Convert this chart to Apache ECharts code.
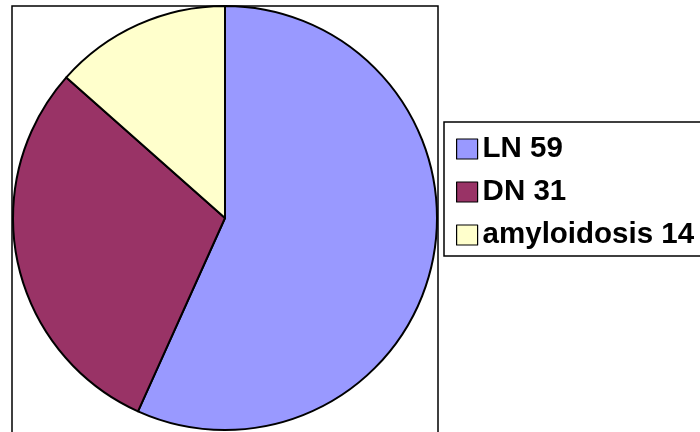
<!DOCTYPE html>
<html>
<head>
<meta charset="utf-8">
<script src="https://cdn.jsdelivr.net/npm/echarts@6/dist/echarts.min.js"></script>
<style>
  html, body { margin: 0; padding: 0; background: #ffffff; }
  #chart { width: 700px; height: 432px; }
</style>
</head>
<body>
<div id="chart"></div>
<script>
// Case counts by diagnosis
const categories = ['LN', 'DN', 'amyloidosis'];
const counts = [59, 31, 14];
const colors = ['#9999FF', '#993366', '#FFFFCC'];

const chart = echarts.init(document.getElementById('chart'), null, { renderer: 'canvas' });

const pieData = categories.map((name, i) => ({
  name: name,
  value: counts[i],
  itemStyle: { color: colors[i] }
}));

chart.setOption({
  animation: false,
  backgroundColor: '#ffffff',
  graphic: [
    {
      // plot-area frame
      type: 'rect',
      shape: { x: 12, y: 6, width: 426, height: 440 },
      style: { fill: 'none', stroke: '#000000', lineWidth: 1.5 },
      z: 0
    }
  ],
  legend: {
    orient: 'vertical',
    left: 444,
    top: 122,
    padding: [12, 30, 6, 12],
    itemWidth: 21,
    itemHeight: 20,
    itemGap: 13,
    borderColor: '#000000',
    borderWidth: 1.5,
    backgroundColor: '#ffffff',
    selectedMode: false,
    icon: 'rect',
    itemStyle: { borderColor: '#000000', borderWidth: 1.2 },
    formatter: function (name) {
      return name + ' ' + counts[categories.indexOf(name)];
    },
    textStyle: {
      fontFamily: 'Liberation Sans, Arial, sans-serif',
      fontWeight: 'bold',
      fontSize: 29.5,
      color: '#000000'
    },
    data: categories
  },
  series: [
    {
      type: 'pie',
      center: [225, 218],
      radius: 212,
      startAngle: 90,
      clockwise: true,
      label: { show: false },
      labelLine: { show: false },
      emphasis: { disabled: true },
      itemStyle: { borderColor: '#000000', borderWidth: 2 },
      data: pieData
    }
  ]
});
</script>
</body>
</html>
